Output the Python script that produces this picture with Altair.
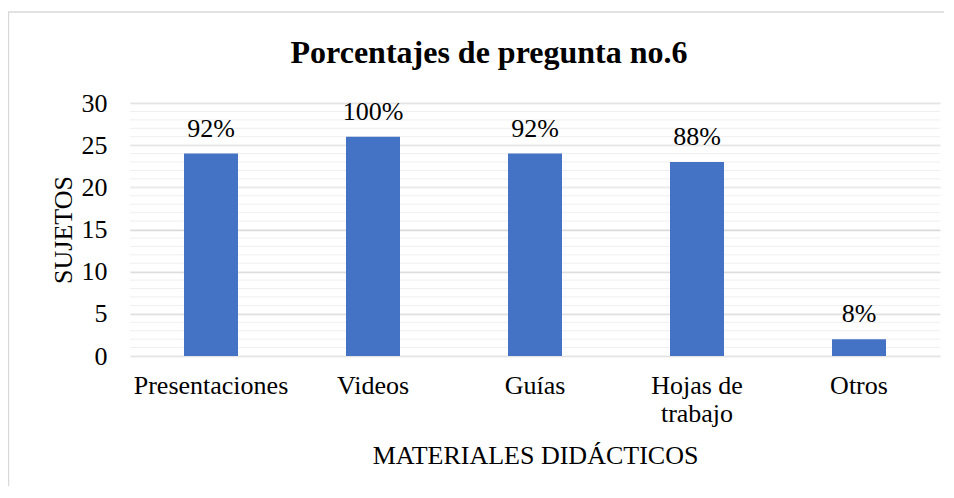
import altair as alt
import pandas as pd

titulo = "Porcentajes de pregunta no.6"
categorias = ["Presentaciones", "Videos", "Guías", "Hojas de trabajo", "Otros"]
sujetos = [24, 26, 24, 23, 2]
porcentajes = ["92%", "100%", "92%", "88%", "8%"]
menores = list(range(0, 31))
mayores = [0, 5, 10, 15, 20, 25, 30]

df = pd.DataFrame({"cat": categorias, "val": sujetos, "pct": porcentajes})
df_minor = pd.DataFrame({"v": menores})
df_title = pd.DataFrame({"t": [titulo]})

FONT = "Liberation Serif"
FS = 26

x_enc = alt.X(
    "cat:N",
    sort=categorias,
    title="MATERIALES DIDÁCTICOS",
    scale=alt.Scale(paddingInner=0.6667, paddingOuter=0.3333),
    axis=alt.Axis(
        labelAngle=0,
        labelFont=FONT,
        labelFontSize=FS,
        labelColor="#000000",
        labelPadding=16,
        labelLimit=400,
        labelLineHeight=28,
        labelExpr="datum.label == 'Hojas de trabajo' ? ['Hojas de', 'trabajo'] : datum.label",
        ticks=False,
        domain=False,
        titleFont=FONT,
        titleFontSize=FS,
        titleFontWeight="normal",
        titleColor="#000000",
        titlePadding=16,
    ),
)

y_scale = alt.Scale(domain=[0, 30], nice=False)
y_axis = alt.Axis(
    values=mayores,
    grid=True,
    gridColor="#d9d9d9",
    gridWidth=1.5,
    ticks=False,
    domain=False,
    labelFont=FONT,
    labelFontSize=FS,
    labelColor="#000000",
    labelPadding=23,
    titleFont=FONT,
    titleFontSize=FS,
    titleFontWeight="normal",
    titleColor="#000000",
    titlePadding=5,
)

frame = alt.Chart(df_title).mark_rect(
    fill=None, stroke="#d9d9d9", strokeWidth=1.5
).encode(
    x=alt.value(-121.5), x2=alt.value(840), y=alt.value(-91), y2=alt.value(420)
)

minor = alt.Chart(df_minor).mark_rule(color="#efefef", strokeWidth=1).encode(
    y=alt.Y("v:Q", scale=y_scale, title="SUJETOS", axis=y_axis)
)

bars = alt.Chart(df).mark_bar(color="#4472C4").encode(
    x=x_enc,
    y=alt.Y("val:Q", scale=y_scale, title="SUJETOS", axis=y_axis),
)

labels = alt.Chart(df).mark_text(
    baseline="alphabetic", dy=-17, font=FONT, fontSize=FS, color="#000000"
).encode(
    x=alt.X("cat:N", sort=categorias),
    y=alt.Y("val:Q", scale=y_scale),
    text="pct:N",
)

title_mark = alt.Chart(df_title).mark_text(
    font=FONT, fontSize=32, fontWeight="bold", color="#000000",
    align="center", baseline="alphabetic"
).encode(
    x=alt.value(359), y=alt.value(-40), text="t:N"
)

chart = alt.layer(frame, minor, bars, labels, title_mark).properties(
    width=810,
    height=253,
    autosize=alt.AutoSizeParams(type="none"),
    padding={"left": 122, "top": 95, "right": 4, "bottom": 130},
).configure(
    background="white",
    view=alt.ViewConfig(strokeWidth=0, stroke=None),
)

chart.save("out.html", embed_options={"renderer": "svg", "actions": False})
